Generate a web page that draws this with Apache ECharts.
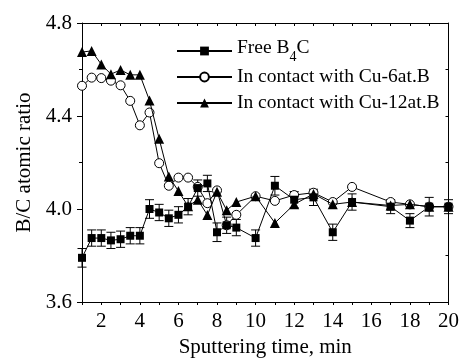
<!DOCTYPE html>
<html>
<head>
<meta charset="utf-8">
<script src="https://cdn.jsdelivr.net/npm/echarts@6/dist/echarts.min.js"></script>
<style>
  html, body { margin: 0; padding: 0; background: #fff; }
  #chart { width: 462px; height: 364px; }
</style>
</head>
<body>
<div id="chart"></div>
<script>
// sputtering time (min)
const times = [1, 1.5, 2, 2.5, 3, 3.5, 4, 4.5, 5, 5.5, 6, 6.5, 7, 7.5, 8, 8.5, 9, 10, 11, 12, 13, 14, 15, 17, 18, 19, 20];

// B/C atomic ratio per sample
const freeB4C = [3.79, 3.875, 3.875, 3.865, 3.87, 3.885, 3.885, 4.0, 3.985, 3.96, 3.975, 4.01, 4.09, 4.11, 3.90, 3.93, 3.92, 3.875, 4.10, 4.04, 4.05, 3.90, 4.03, 4.01, 3.95, 4.01, 4.01];
const freeErr = [0.04, 0.035, 0.035, 0.035, 0.035, 0.035, 0.035, 0.04, 0.035, 0.035, 0.035, 0.035, 0.035, 0.035, 0.04, 0.035, 0.035, 0.035, 0.04, 0.035, 0.035, 0.035, 0.035, 0.03, 0.03, 0.04, 0.03];
const cu6 = [4.53, 4.565, 4.563, 4.552, 4.532, 4.465, 4.36, 4.415, 4.197, 4.10, 4.135, 4.135, 4.095, 4.025, 4.08, 3.93, 3.975, 4.055, 4.035, 4.06, 4.07, 4.03, 4.095, 4.03, 4.02, 4.01, 4.01];
const cu12 = [4.675, 4.68, 4.622, 4.58, 4.598, 4.577, 4.577, 4.467, 4.302, 4.14, 4.077, 4.012, 4.04, 3.974, 4.074, 3.995, 4.03, 4.055, 3.94, 4.02, 4.065, 4.02, 4.03, 4.015, 4.02, 4.01, 4.01];

const xLabels = [2, 4, 6, 8, 10, 12, 14, 16, 18, 20];
const yTicks = { min: 3.6, max: 4.8, step: 0.4 };

const FONT = 'Liberation Serif';
const pair = (vals) => times.map((t, i) => [t, vals[i]]);

const chart = echarts.init(document.getElementById('chart'), null, { renderer: 'canvas' });

const option = {
    animation: false,
    backgroundColor: '#fff',
    textStyle: { fontFamily: FONT, color: '#000' },
    grid: { left: 82, right: 12, top: 23, bottom: 62 },
    legend: {
        orient: 'vertical',
        left: 176,
        top: 38,
        padding: 0,
        itemWidth: 55,
        itemHeight: 11,
        itemGap: 0,
        data: ['Free B4C', 'In contact with Cu-6at.B', 'In contact with Cu-12at.B'],
        formatter: (name) => name === 'Free B4C' ? '{n|Free B}{sub|4}{n|C}' : name,
        textStyle: {
            fontFamily: FONT, fontSize: 19.5, color: '#000', lineHeight: 26,
            rich: {
                n: { fontFamily: FONT, fontSize: 19.5, color: '#000', lineHeight: 26, verticalAlign: 'top' },
                sub: { fontFamily: FONT, fontSize: 14, color: '#000', lineHeight: 14, verticalAlign: 'top', padding: [12, 0, 0, 0] }
            }
        }
    },
    xAxis: [
        {
            type: 'value', position: 'bottom', min: 1, max: 20, interval: 1,
            name: 'Sputtering time, min', nameLocation: 'middle', nameGap: 33,
            nameTextStyle: { fontFamily: FONT, fontSize: 21, color: '#000' },
            splitLine: { show: false },
            axisLine: { lineStyle: { color: '#000', width: 1 } },
            axisTick: { inside: false, length: 3, lineStyle: { color: '#000' } },
            axisLabel: { customValues: xLabels, margin: 9, fontFamily: FONT, fontSize: 21, color: '#000' }
        },
        {
            type: 'value', position: 'top', min: 1, max: 20, interval: 1,
            splitLine: { show: false },
            axisLine: { lineStyle: { color: '#000', width: 1 } },
            axisTick: { inside: true, length: 3, lineStyle: { color: '#000' } },
            axisLabel: { show: false }
        }
    ],
    yAxis: [
        {
            type: 'value', position: 'left', min: yTicks.min, max: yTicks.max, interval: yTicks.step,
            name: 'B/C atomic ratio', nameLocation: 'middle', nameGap: 43,
            nameTextStyle: { fontFamily: FONT, fontSize: 21, color: '#000' },
            splitLine: { show: false },
            axisLine: { show: true, lineStyle: { color: '#000', width: 1 } },
            axisTick: { show: true, inside: false, length: 5, lineStyle: { color: '#000' } },
            minorTick: { show: true, splitNumber: 2, length: 3, lineStyle: { color: '#000' } },
            axisLabel: { margin: 10, fontFamily: FONT, fontSize: 21, color: '#000', formatter: (v) => v.toFixed(1) }
        },
        {
            type: 'value', position: 'right', min: yTicks.min, max: yTicks.max, interval: 0.2,
            splitLine: { show: false },
            axisLine: { show: true, lineStyle: { color: '#000', width: 1 } },
            axisTick: { show: true, inside: true, length: 3, lineStyle: { color: '#000' } },
            axisLabel: { show: false }
        }
    ],
    series: [
        {
            name: 'error',
            type: 'custom',
            z: 1,
            renderItem: (params, api) => {
                const x = api.value(0);
                const top = api.coord([x, api.value(2)]);
                const bot = api.coord([x, api.value(1)]);
                const w = 4.5;
                const st = { stroke: '#000', lineWidth: 1 };
                return {
                    type: 'group',
                    children: [
                        { type: 'line', shape: { x1: top[0], y1: top[1], x2: bot[0], y2: bot[1] }, style: st },
                        { type: 'line', shape: { x1: top[0] - w, y1: top[1], x2: top[0] + w, y2: top[1] }, style: st },
                        { type: 'line', shape: { x1: bot[0] - w, y1: bot[1], x2: bot[0] + w, y2: bot[1] }, style: st }
                    ]
                };
            },
            encode: { x: 0, y: [1, 2] },
            data: times.map((t, i) => [t, freeB4C[i] - freeErr[i], freeB4C[i] + freeErr[i]])
        },
        {
            name: 'Free B4C', type: 'line', z: 3,
            symbol: 'rect', symbolSize: 8,
            lineStyle: { color: '#000', width: 1 },
            itemStyle: { color: '#000', borderColor: '#000', borderWidth: 0 },
            data: pair(freeB4C)
        },
        {
            name: 'In contact with Cu-6at.B', type: 'line', z: 2,
            symbol: 'circle', symbolSize: 9,
            lineStyle: { color: '#000', width: 1 },
            itemStyle: { color: '#fff', borderColor: '#000', borderWidth: 1 },
            data: pair(cu6)
        },
        {
            name: 'In contact with Cu-12at.B', type: 'line', z: 4,
            symbol: 'triangle', symbolSize: 10,
            lineStyle: { color: '#000', width: 1 },
            itemStyle: { color: '#000', borderColor: '#000', borderWidth: 0 },
            data: pair(cu12)
        }
    ]
};

chart.setOption(option);
</script>
</body>
</html>
